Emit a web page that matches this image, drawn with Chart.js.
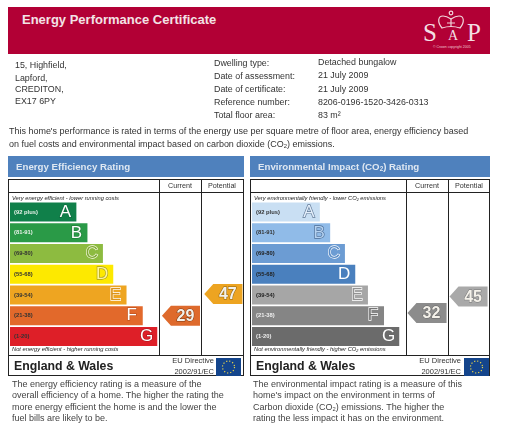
<!DOCTYPE html>
<html>
<head>
<meta charset="utf-8">
<script src="https://cdn.jsdelivr.net/npm/chart.js@4"></script>
<style>
html, body { margin: 0; padding: 0; background: #fff; }
#page { position: relative; width: 505px; height: 437px; overflow: hidden; font-family: "Liberation Sans", Arial, sans-serif; color: #333; filter: blur(0.4px); }
#page div, #page canvas, #page svg { position: absolute; }
.t { white-space: nowrap; line-height: 1; }
.info { font-size: 8.9px; }
.body { font-size: 9px; color: #444; }
.head { background: #4f81bd; height: 21px; top: 156px; }
.headtxt { top: 161.5px; font-size: 9.7px; font-weight: bold; color: #dfe8f2; white-space: nowrap; line-height: 1; }
.panel { top: 179px; height: 197px; border: 1px solid #222; box-sizing: border-box; }
.line { background: #222; }
.col { top: 182px; font-size: 7.2px; width: 40px; text-align: center; color: #333; line-height: 1; }
.note { font-size: 5.75px; font-style: italic; color: #222; white-space: nowrap; line-height: 1; }
.eng { font-size: 12.3px; font-weight: bold; color: #222; top: 360px; white-space: nowrap; line-height: 1; }
.eu { font-size: 7.5px; color: #333; text-align: right; width: 70px; line-height: 1; }
.flag { background: #14458c; top: 358px; height: 18px; }
sub { font-size: 65%; vertical-align: -1px; line-height: 0; }
</style>
</head>
<body>
<div id="page">
  <div style="left:8px;top:7px;width:482px;height:47px;background:#b20035"></div>
  <div class="t" style="left:22px;top:12.5px;font-size:13px;font-weight:bold;color:#f3e3e6">Energy Performance Certificate</div>
  <svg style="left:436px;top:10px" width="30" height="22" viewBox="0 0 30 22" fill="none" stroke="#f1d6dc" stroke-width="1.2">
    <path d="M6 18 C1 12 2 6 7 6 C10 6 12 7 15 9 C18 7 20 6 23 6 C28 6 29 12 24 18 C18 16 12 16 6 18 Z"/>
    <path d="M15 9 V17 M11 13 H19"/>
    <circle cx="15" cy="3" r="1.8"/>
  </svg>
  <div class="t" style="left:423px;top:20px;font-family:'Liberation Serif',serif;font-size:25px;color:#f3dfe3">S</div>
  <div class="t" style="left:448px;top:29px;font-family:'Liberation Serif',serif;font-size:14px;color:#f3dfe3">A</div>
  <div class="t" style="left:467px;top:20px;font-family:'Liberation Serif',serif;font-size:25px;color:#f3dfe3">P</div>
  <div class="t" style="left:433px;top:46px;font-size:3.5px;color:#eec9d2">© Crown copyright 2005</div>

  <div class="t info" style="left:15px;top:61px">15, Highfield,</div>
  <div class="t info" style="left:15px;top:74px">Lapford,</div>
  <div class="t info" style="left:15px;top:85px">CREDITON,</div>
  <div class="t info" style="left:15px;top:97px">EX17 6PY</div>
  <div class="t info" style="left:214px;top:59px">Dwelling type:</div>
  <div class="t info" style="left:214px;top:72px">Date of assessment:</div>
  <div class="t info" style="left:214px;top:85px">Date of certificate:</div>
  <div class="t info" style="left:214px;top:98px">Reference number:</div>
  <div class="t info" style="left:214px;top:111px">Total floor area:</div>
  <div class="t info" style="left:318px;top:58px">Detached bungalow</div>
  <div class="t info" style="left:318px;top:71px">21 July 2009</div>
  <div class="t info" style="left:318px;top:85px">21 July 2009</div>
  <div class="t info" style="left:318px;top:98px">8206-0196-1520-3426-0313</div>
  <div class="t info" style="left:318px;top:111px">83 m²</div>
  <div class="t" style="left:9px;top:127px;font-size:8.98px">This home's performance is rated in terms of the energy use per square metre of floor area, energy efficiency based</div>
  <div class="t" style="left:9px;top:140px;font-size:8.98px">on fuel costs and environmental impact based on carbon dioxide (CO<sub>2</sub>) emissions.</div>

  <div class="head" style="left:8px;width:236px"></div>
  <div class="headtxt" style="left:16px">Energy Efficiency Rating</div>
  <div class="panel" style="left:8px;width:236px"></div>
  <div class="line" style="left:8px;top:192px;width:236px;height:1px"></div>
  <div class="line" style="left:8px;top:355px;width:236px;height:1px"></div>
  <div class="line" style="left:159px;top:179px;width:1px;height:176px"></div>
  <div class="line" style="left:201px;top:179px;width:1px;height:176px"></div>
  <div class="col" style="left:160px">Current</div>
  <div class="col" style="left:202px">Potential</div>
  <div class="note" style="left:12px;top:196px">Very energy efficient - lower running costs</div>
  <div class="note" style="left:12px;top:346.5px">Not energy efficient - higher running costs</div>
  <canvas id="effChart" width="234" height="160" style="left:9px;top:193px"></canvas>
  <div class="eng" style="left:14px">England &amp; Wales</div>
  <div class="eu" style="left:144px;top:357px">EU Directive</div>
  <div class="eu" style="left:144px;top:368px">2002/91/EC</div>
  <div class="flag" style="left:216px;width:25px"></div>
  <svg style="left:216px;top:358px" width="25" height="18"><circle cx="12.5" cy="9" r="6" fill="none" stroke="#e8d34a" stroke-width="1.2" stroke-dasharray="1.2 1.94"/></svg>
  <div class="t body" style="left:12px;top:380px">The energy efficiency rating is a measure of the</div>
  <div class="t body" style="left:12px;top:391px">overall efficiency of a home. The higher the rating the</div>
  <div class="t body" style="left:12px;top:403px">more energy efficient the home is and the lower the</div>
  <div class="t body" style="left:12px;top:414px">fuel bills are likely to be.</div>

  <div class="head" style="left:250px;width:240px"></div>
  <div class="headtxt" style="left:258px">Environmental Impact (CO<sub>2</sub>) Rating</div>
  <div class="panel" style="left:250px;width:240px"></div>
  <div class="line" style="left:250px;top:192px;width:240px;height:1px"></div>
  <div class="line" style="left:250px;top:355px;width:240px;height:1px"></div>
  <div class="line" style="left:406px;top:179px;width:1px;height:176px"></div>
  <div class="line" style="left:448px;top:179px;width:1px;height:176px"></div>
  <div class="col" style="left:407px">Current</div>
  <div class="col" style="left:449px">Potential</div>
  <div class="note" style="left:254px;top:196px">Very environmentally friendly - lower CO<sub>2</sub> emissions</div>
  <div class="note" style="left:254px;top:346.5px">Not environmentally friendly - higher CO<sub>2</sub> emissions</div>
  <canvas id="envChart" width="238" height="160" style="left:251px;top:193px"></canvas>
  <div class="eng" style="left:256px">England &amp; Wales</div>
  <div class="eu" style="left:391px;top:357px">EU Directive</div>
  <div class="eu" style="left:391px;top:368px">2002/91/EC</div>
  <div class="flag" style="left:464px;width:25px"></div>
  <svg style="left:464px;top:358px" width="25" height="18"><circle cx="12.5" cy="9" r="6" fill="none" stroke="#e8d34a" stroke-width="1.2" stroke-dasharray="1.2 1.94"/></svg>
  <div class="t body" style="left:253px;top:380px">The environmental impact rating is a measure of this</div>
  <div class="t body" style="left:253px;top:391px">home's impact on the environment in terms of</div>
  <div class="t body" style="left:253px;top:403px">Carbon dioxide (CO<sub>2</sub>) emissions. The higher the</div>
  <div class="t body" style="left:253px;top:414px">rating the less impact it has on the environment.</div>
</div>

<script>
// rating bands, same on both charts
var bands = ['A', 'B', 'C', 'D', 'E', 'F', 'G'];
var bandRanges = ['(92 plus)', '(81-91)', '(69-80)', '(55-68)', '(39-54)', '(21-38)', '(1-20)'];

// bar lengths, longest bar = 100
var effLengths = [45, 52.5, 63, 70, 79, 90, 100];
var envLengths = [46, 53, 63, 70, 78.6, 89.5, 100];

// current and potential ratings, and the row each pointer sits on
var effRatings = [29, 47];
var effRows = [5, 3.95];
var envRatings = [32, 45];
var envRows = [4.87, 4.07];

// pointer tip and right edge on the x scale
var effPointerX = [[103, 128.8], [131.7, 157.6]];
var envPointerX = [[105.4, 131.9], [133.9, 159.7]];

var effColors = ['#10804a', '#2a9a47', '#8dbb40', '#fde900', '#eea521', '#e2692b', '#de1f28'];
var envColors = ['#c9dff3', '#90bbe8', '#6c9cd3', '#4a80be', '#a6a6a6', '#858585', '#6b6b6b'];
var effRangeColors = ['#e8f2ea', '#e8f2ea', '#333', '#333', '#333', '#333', '#333'];
var envRangeColors = ['#333', '#333', '#222', '#222', '#222', '#eee', '#eee'];
var effLetterFill = ['#fff', '#fff', '#7fa935', '#fff799', '#d9931a', '#fff', '#fff'];
var effLetterLine = ['#0d6d3f', '#1f7f3a', '#fbfce8', '#a89a20', '#fff', '#c4541f', '#b01820'];
var envLetterFill = ['#e3eefa', '#b5d2f0', '#5a8cc6', '#fff', '#939393', '#757575', '#fff'];
var envLetterLine = ['#5f7896', '#4f6f98', '#fff', '#4a80be', '#fff', '#fff', '#6b6b6b'];
var effPointerColors = ['#de6a2c', '#eda421'];
var envPointerColors = ['#8c8c8c', '#a9a9a9'];
var effNumberLine = ['#7a3a14', '#8a6212'];
var envNumberLine = ['#666', '#777'];

var ratingPlugin = {
  id: 'ratingMarks',
  afterDatasetsDraw: function (chart, args, o) {
    var c = chart.ctx, x = chart.scales.x, y = chart.scales.y;
    c.save();
    c.textBaseline = 'middle';
    bands.forEach(function (b, i) {
      var py = y.getPixelForValue(i);
      c.font = 'bold 5.8px "Liberation Sans"';
      c.textAlign = 'left';
      c.fillStyle = o.rangeColors[i];
      c.fillText(bandRanges[i], x.getPixelForValue(0) + 4, py);
      c.font = '17px "Liberation Sans"';
      c.textAlign = 'center';
      c.lineWidth = 1.3;
      c.strokeStyle = o.letterLine[i];
      c.strokeText(b, x.getPixelForValue(o.lengths[i]) - 11, py);
      c.fillStyle = o.letterFill[i];
      c.fillText(b, x.getPixelForValue(o.lengths[i]) - 11, py);
    });
    o.ratings.forEach(function (r, i) {
      var py = y.getPixelForValue(o.rows[i]);
      var tip = x.getPixelForValue(o.pointerX[i][0]);
      var end = x.getPixelForValue(o.pointerX[i][1]);
      c.fillStyle = o.pointerColors[i];
      c.beginPath();
      c.moveTo(tip, py);
      c.lineTo(tip + 9, py - 10);
      c.lineTo(end, py - 10);
      c.lineTo(end, py + 10);
      c.lineTo(tip + 9, py + 10);
      c.closePath();
      c.fill();
      c.font = 'bold 16px "Liberation Sans"';
      c.textAlign = 'center';
      c.lineWidth = 1;
      c.strokeStyle = o.numberLine[i];
      c.strokeText(String(r), (tip + 9 + end) / 2, py + 1);
      c.fillStyle = '#f4f1ea';
      c.fillText(String(r), (tip + 9 + end) / 2, py + 1);
    });
    c.restore();
  }
};

function ratingChart(id, lengths, colors, marks) {
  var canvas = document.getElementById(id);
  return new Chart(canvas.getContext('2d'), {
    type: 'bar',
    data: {
      labels: bands,
      datasets: [{
        data: lengths,
        backgroundColor: colors,
        categoryPercentage: 1,
        barPercentage: 0.92
      }]
    },
    options: {
      indexAxis: 'y',
      responsive: false,
      animation: false,
      layout: { padding: { left: 1, right: canvas.width - 148.5, top: 8.7, bottom: 6.1 } },
      scales: {
        x: { display: false, min: 0, max: 100 },
        y: { display: false }
      },
      plugins: {
        legend: { display: false },
        tooltip: { enabled: false },
        ratingMarks: marks
      }
    },
    plugins: [ratingPlugin]
  });
}

ratingChart('effChart', effLengths, effColors, {
  lengths: effLengths, ratings: effRatings, rows: effRows, pointerX: effPointerX,
  rangeColors: effRangeColors, letterFill: effLetterFill, letterLine: effLetterLine,
  pointerColors: effPointerColors, numberLine: effNumberLine
});
ratingChart('envChart', envLengths, envColors, {
  lengths: envLengths, ratings: envRatings, rows: envRows, pointerX: envPointerX,
  rangeColors: envRangeColors, letterFill: envLetterFill, letterLine: envLetterLine,
  pointerColors: envPointerColors, numberLine: envNumberLine
});
</script>
</body>
</html>
